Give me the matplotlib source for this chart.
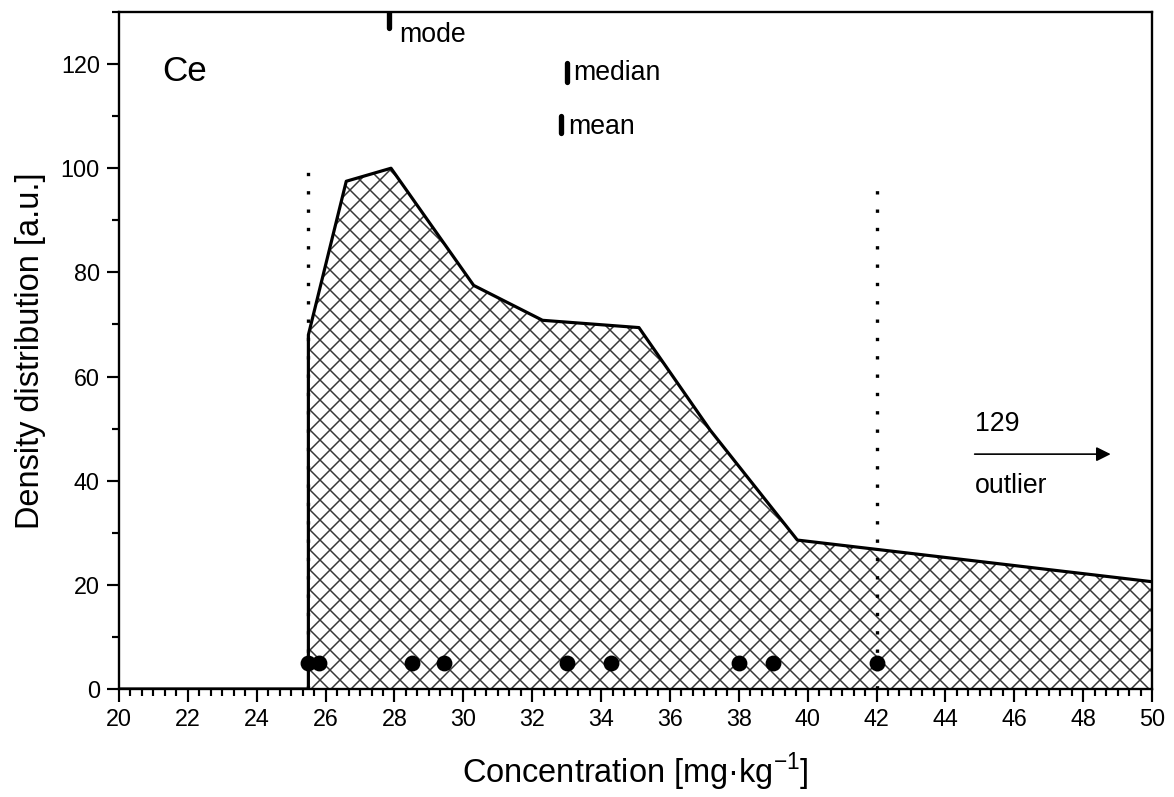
import matplotlib
matplotlib.use("Agg")
import matplotlib.pyplot as plt
from matplotlib.ticker import MultipleLocator, AutoMinorLocator

plt.rcParams['font.family'] = ['Liberation Sans', 'DejaVu Sans']
plt.rcParams['hatch.linewidth'] = 0.9
plt.rcParams['hatch.color'] = '#383838'

# density curve
conc = [20.0, 25.5, 25.5, 26.6, 27.9, 30.3, 32.3, 35.1, 37.17, 39.7, 50.0]
density = [0.0, 0.0, 68.0, 97.5, 100.0, 77.5, 70.8, 69.4, 49.7, 28.6, 20.6]

# individual samples
sample_x = [25.5, 25.8, 28.5, 29.45, 33.0, 34.3, 38.0, 39.0, 42.0]
sample_y = [5, 5, 5, 5, 5, 5, 5, 5, 5]

# dotted boundary lines (x, top)
bound_x = [25.5, 42.0]
bound_top = [100.0, 97.5]

# statistics markers: name, x, y_low, y_high
stat_names = ['mode', 'median', 'mean']
stat_x = [27.85, 33.0, 32.85]
stat_lo = [127.0, 116.6, 106.8]
stat_hi = [130.5, 120.3, 110.0]

dpi = 120
fig = plt.figure(figsize=(1174 / dpi, 797 / dpi), dpi=dpi)
ax = fig.add_axes([119 / 1174, 108 / 797, (1152 - 119) / 1174, (689 - 12) / 797])

ax.fill_between(conc, density, 0, facecolor='white', hatch='xx',
                edgecolor='#383838', linewidth=0, zorder=1)
ax.plot(conc, density, color='black', lw=1.9, zorder=3)

for bx, bt in zip(bound_x, bound_top):
    ax.plot([bx, bx], [0, bt], color='black', lw=2.0, linestyle=(0, (1, 4.5)),
            dash_capstyle='butt', zorder=2)

ax.plot(sample_x, sample_y, 'o', color='black', markersize=8.5, zorder=4)

for name, sx, lo, hi in zip(stat_names, stat_x, stat_lo, stat_hi):
    ax.plot([sx, sx], [lo, hi], color='black', lw=3.2, solid_capstyle='round',
            clip_on=True, zorder=5)

ax.text(28.15, 125.6, 'mode', fontsize=16, va='center', ha='left')
ax.text(33.2, 118.3, 'median', fontsize=16, va='center', ha='left')
ax.text(33.05, 107.9, 'mean', fontsize=16, va='center', ha='left')
ax.text(21.25, 118.5, 'Ce', fontsize=21, va='center', ha='left')

ax.annotate('', xy=(48.8, 45.1), xytext=(44.85, 45.1),
            arrowprops=dict(arrowstyle='-|>', color='black', lw=1.0,
                            mutation_scale=18, shrinkA=0, shrinkB=0))
ax.text(44.85, 50.8, '129', fontsize=16, va='center', ha='left')
ax.text(44.85, 39.0, 'outlier', fontsize=16, va='center', ha='left')

ax.set_xlim(20, 50)
ax.set_ylim(0, 130)
ax.xaxis.set_major_locator(MultipleLocator(2))
ax.xaxis.set_minor_locator(AutoMinorLocator(6))
ax.yaxis.set_major_locator(MultipleLocator(20))
ax.yaxis.set_minor_locator(AutoMinorLocator(2))
ax.tick_params(which='both', direction='out', width=1.3, top=False, right=False)
ax.tick_params(which='major', length=7.5, labelsize=14, pad=4)
ax.tick_params(which='minor', length=4)
for s in ax.spines.values():
    s.set_linewidth(1.4)

ax.set_xlabel('Concentration [mg·kg$^{\\mathregular{-1}}$]', fontsize=19.5, labelpad=12)
ax.set_ylabel('Density distribution [a.u.]', fontsize=19.5, labelpad=9)

fig.savefig('out.png', dpi=dpi)
